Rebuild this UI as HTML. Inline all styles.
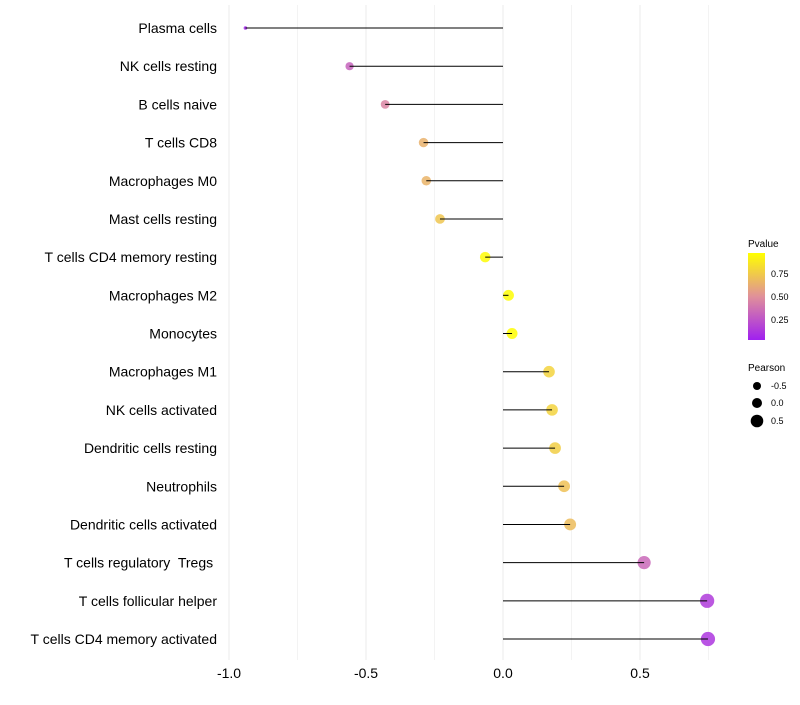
<!DOCTYPE html>
<html><head><meta charset="utf-8"><style>
body{margin:0;background:#fff;font-family:"Liberation Sans",sans-serif}
text{white-space:pre}
</style></head><body>
<svg id="chart" width="800" height="700" xmlns="http://www.w3.org/2000/svg">
<defs><linearGradient id="pg" x1="0" y1="1" x2="0" y2="0">
<stop offset="0" stop-color="#a020f0"/><stop offset="0.5" stop-color="#e0909a"/><stop offset="1" stop-color="#ffff00"/></linearGradient></defs>
<g id="grid"></g><g id="marks"></g><g id="labels"></g>
<g font-size="9" fill="#000">
<text x="748" y="247" font-size="10">Pvalue</text>
<rect x="748" y="253" width="17" height="87" fill="url(#pg)"/>
<text x="771" y="277">0.75</text><text x="771" y="300">0.50</text><text x="771" y="323">0.25</text>
</g>
<g font-size="9" fill="#000">
<text x="748" y="371" font-size="10">Pearson</text>
<circle cx="757" cy="386" r="4"/><text x="771" y="389">-0.5</text>
<circle cx="757" cy="403" r="5"/><text x="771" y="406">0.0</text>
<circle cx="757" cy="421" r="6.3"/><text x="771" y="424">0.5</text>
</g>
</svg>
<script>
const categories=["Plasma cells","NK cells resting","B cells naive","T cells CD8","Macrophages M0","Mast cells resting","T cells CD4 memory resting","Macrophages M2","Monocytes","Macrophages M1","NK cells activated","Dendritic cells resting","Neutrophils","Dendritic cells activated","T cells regulatory  Tregs ","T cells follicular helper","T cells CD4 memory activated"];
const pearson=[-0.94,-0.56,-0.43,-0.29,-0.28,-0.23,-0.065,0.02,0.033,0.168,0.179,0.19,0.223,0.245,0.515,0.745,0.748];
const pvalue=[0.02,0.3,0.45,0.65,0.66,0.74,0.98,0.99,0.99,0.8,0.8,0.78,0.72,0.7,0.32,0.12,0.1];
const xTicks=[-1.0,-0.5,0.0,0.5];
const xGrid=[-1.0,-0.75,-0.5,-0.25,0,0.25,0.5,0.75];
const NS="http://www.w3.org/2000/svg";
const x=v=>503+v*274;
const y=i=>28+i*(639-28)/(categories.length-1);
const rad=p=>p<-0.8?1.8:Math.max(1.5,5.4+2.3*p);
function col(p){const a=[160,32,240],m=[224,144,154],b=[255,255,0];let c;
 if(p<0.5){const t=p/0.5;c=a.map((v,k)=>v+(m[k]-v)*t);}else{const t=(p-0.5)/0.5;c=m.map((v,k)=>v+(b[k]-v)*t);}
 return `rgb(${c.map(Math.round).join(',')})`;}
function mk(t,at,parent){const e=document.createElementNS(NS,t);for(const k in at)e.setAttribute(k,at[k]);parent.appendChild(e);return e;}
const grid=document.getElementById('grid'),marks=document.getElementById('marks'),labels=document.getElementById('labels');
xGrid.forEach(v=>{const l=mk('line',{x1:x(v),x2:x(v),y1:5,y2:660,stroke:'#ebebeb','stroke-width':v*4%2==0?1:0.6},grid);

});
xTicks.forEach(v=>{const t=mk('text',{x:x(v),y:678,'text-anchor':'middle','font-size':14,fill:'#000'},labels);t.textContent=v.toFixed(1);

});
categories.forEach((c,i)=>{
 const pt=mk('circle',{cx:x(pearson[i]),cy:y(i),r:rad(pearson[i]),fill:col(pvalue[i]),'fill-opacity':0.85},marks);
 
 
 const ln=mk('line',{x1:x(0),x2:x(pearson[i]),y1:y(i),y2:y(i),stroke:'#000','stroke-width':1},marks);
 
 
 const t=mk('text',{x:217,y:y(i)+5,'text-anchor':'end','font-size':14,fill:'#000'},labels);t.textContent=c;
 
 
});
</script>
</body></html>
